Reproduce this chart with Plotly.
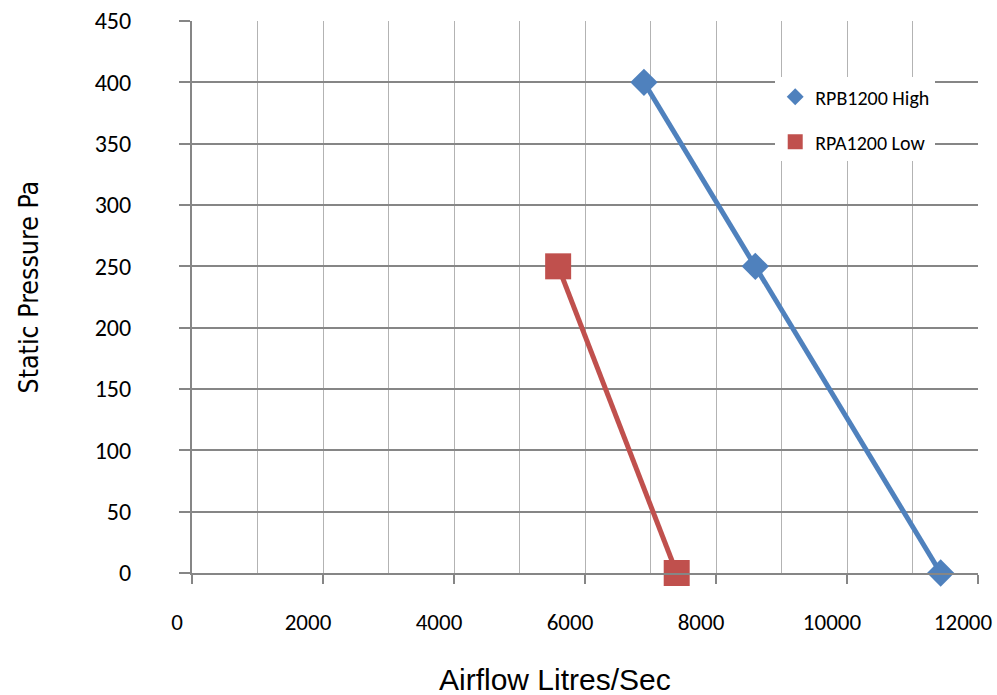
import plotly.graph_objects as go

# Data
high_airflow = [6900, 8600, 11430]
high_pressure = [400, 250, 0]
low_airflow = [5590, 7400]
low_pressure = [250, 0]

series_names = ["RPB1200 High", "RPA1200 Low"]
x_title = "Airflow Litres/Sec"
y_title = "Static Pressure Pa"
x_tickvals = [0, 2000, 4000, 6000, 8000, 10000, 12000]
y_tickvals = [0, 50, 100, 150, 200, 250, 300, 350, 400, 450]

BLUE = "#4F81BD"
RED = "#C0504D"
GRID_MAJOR = "#868686"
GRID_MINOR = "#B3B3B3"
FONT_FAMILY = "Calibri, Carlito, Lato, sans-serif"

fig = go.Figure()
# data traces (lines + markers)
fig.add_trace(go.Scatter(
    x=high_airflow, y=high_pressure, name=series_names[0], mode="lines+markers",
    line=dict(color=BLUE, width=5),
    marker=dict(symbol="diamond", size=21, color=BLUE),
    showlegend=False, cliponaxis=False,
))
fig.add_trace(go.Scatter(
    x=low_airflow, y=low_pressure, name=series_names[1], mode="lines+markers",
    line=dict(color=RED, width=5),
    marker=dict(symbol="square", size=26, color=RED),
    showlegend=False, cliponaxis=False,
))
# legend entries (marker only, as in the reference legend)
fig.add_trace(go.Scatter(
    x=[None], y=[None], name=series_names[0], mode="markers",
    marker=dict(symbol="diamond", size=13, color=BLUE), legendgroup="a",
))
fig.add_trace(go.Scatter(
    x=[None], y=[None], name=series_names[1], mode="markers",
    marker=dict(symbol="square", size=15, color=RED), legendgroup="b",
))

fig.update_layout(
    width=997, height=695,
    margin=dict(l=192, r=19, t=21, b=122, autoexpand=False),
    paper_bgcolor="white", plot_bgcolor="white",
    showlegend=True,
    legend=dict(
        x=0.742, y=0.898, xanchor="left", yanchor="top",
        bgcolor="white", borderwidth=0,
        font=dict(family=FONT_FAMILY, size=20, color="#000000"),
        tracegroupgap=16, itemwidth=30,
    ),
    xaxis=dict(
        range=[0, 12000], tickvals=x_tickvals, ticktext=[str(v) for v in x_tickvals],
        showgrid=True, gridcolor=GRID_MINOR, gridwidth=1.3,
        minor=dict(dtick=1000, showgrid=True, gridcolor=GRID_MINOR, gridwidth=1.3, ticks=""),
        showline=True, linecolor=GRID_MAJOR, linewidth=2,
        ticks="outside", ticklen=9, tickcolor=GRID_MAJOR, tickwidth=2,
        tickfont=dict(family=FONT_FAMILY, size=23, color="#000000"),
        ticklabelstandoff=18, ticklabelshift=-15,
        ticklabeloverflow="allow",
        zeroline=False, automargin=False,
    ),
    yaxis=dict(
        range=[0, 450], tickvals=y_tickvals,
        showgrid=True, gridcolor=GRID_MAJOR, gridwidth=1.5,
        showline=True, linecolor=GRID_MAJOR, linewidth=2,
        ticks="outside", ticklen=11, tickcolor=GRID_MAJOR, tickwidth=2,
        tickfont=dict(family=FONT_FAMILY, size=24, color="#000000"),
        ticklabelstandoff=43,
        ticklabeloverflow="allow",
        zeroline=False, automargin=False,
    ),
    annotations=[
        dict(text=x_title, xref="paper", yref="paper", x=0.4622, y=-0.193,
             xanchor="center", yanchor="middle", showarrow=False,
             font=dict(family="Arial, Liberation Sans, sans-serif", size=30, color="#000000")),
        dict(text=y_title, xref="paper", yref="paper", x=-0.2083, y=0.5177,
             xanchor="center", yanchor="middle", showarrow=False, textangle=-90,
             font=dict(family="Arial Narrow, Liberation Sans Narrow, DejaVu Sans Condensed, sans-serif",
                       size=26.5, color="#000000")),
    ],
)

fig.write_html("out.html", config={"displayModeBar": False},
               post_script="document.body.style.margin='0px';")
